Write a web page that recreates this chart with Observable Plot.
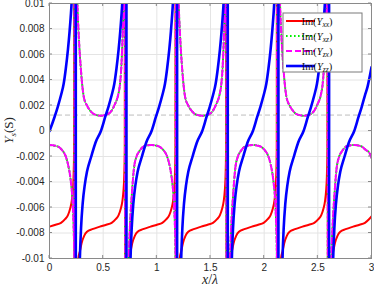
<!DOCTYPE html>
<html><head><meta charset="utf-8">
<script src="https://cdn.jsdelivr.net/npm/d3@7"></script>
<script src="https://cdn.jsdelivr.net/npm/@observablehq/plot@0.6"></script>
<style>body{margin:0;background:#fff;} #chart{width:374px;height:289px;overflow:hidden;position:relative}</style>
</head><body><div id="chart"></div>
<script>
// ---- axis ticks ----
const xTicks = [0, 0.5, 1, 1.5, 2, 2.5, 3];
const xTickLabels = ["0", "0.5", "1", "1.5", "2", "2.5", "3"];
const yTicks = [-0.01, -0.008, -0.006, -0.004, -0.002, 0, 0.002, 0.004, 0.006, 0.008, 0.01];
const yTickLabels = ["-0.01", "-0.008", "-0.006", "-0.004", "-0.002", "0", "0.002", "0.004", "0.006", "0.008", "0.01"];
const refLevel = [0.00125];
const seriesNames = ["xx", "xz", "zx", "zz"];

// ---- Im(Yxx) (values beyond ±0.01 are the off-scale parts near the poles) ----
const yxxX = [0, 0.057, 0.107, 0.147, 0.172, 0.192, 0.207, 0.217, 0.224, 0.229, 0.2325,
  0.2335, 0.244, 0.269, 0.284, 0.299, 0.324, 0.349, 0.399, 0.469, 0.529, 0.579, 0.619, 0.644, 0.664, 0.679, 0.689, 0.696, 0.701, 0.7045,
  0.7055, 0.716, 0.741, 0.756, 0.771, 0.796, 0.821, 0.871, 0.941, 1.001, 1.051, 1.091, 1.116, 1.136, 1.151, 1.161, 1.168, 1.173, 1.1765,
  1.1775, 1.188, 1.213, 1.228, 1.243, 1.268, 1.293, 1.343, 1.413, 1.473, 1.523, 1.563, 1.588, 1.608, 1.623, 1.633, 1.640, 1.645, 1.6485,
  1.6495, 1.660, 1.685, 1.700, 1.715, 1.740, 1.765, 1.815, 1.885, 1.945, 1.995, 2.035, 2.060, 2.080, 2.095, 2.105, 2.112, 2.117, 2.1205,
  2.1215, 2.132, 2.157, 2.172, 2.187, 2.212, 2.237, 2.287, 2.357, 2.417, 2.467, 2.507, 2.532, 2.552, 2.567, 2.577, 2.584, 2.589, 2.5925,
  2.5935, 2.604, 2.629, 2.644, 2.659, 2.684, 2.709, 2.759, 2.829, 2.889, 2.939, 2.979, 3.0];
const yxxY = [-0.0075, -0.00735, -0.0072, -0.0069, -0.0066, -0.0061, -0.0055, -0.0047, -0.0036, -0.0015, 0.05,
  -0.05, -0.018, -0.0100, -0.0094, -0.0088, -0.0082, -0.0079, -0.0077, -0.0075, -0.00735, -0.0072, -0.0069, -0.0066, -0.0061, -0.0055, -0.0047, -0.0036, -0.0015, 0.05,
  -0.05, -0.018, -0.0100, -0.0094, -0.0088, -0.0082, -0.0079, -0.0077, -0.0075, -0.00735, -0.0072, -0.0069, -0.0066, -0.0061, -0.0055, -0.0047, -0.0036, -0.0015, 0.05,
  -0.05, -0.018, -0.0100, -0.0094, -0.0088, -0.0082, -0.0079, -0.0077, -0.0075, -0.00735, -0.0072, -0.0069, -0.0066, -0.0061, -0.0055, -0.0047, -0.0036, -0.0015, 0.05,
  -0.05, -0.018, -0.0100, -0.0094, -0.0088, -0.0082, -0.0079, -0.0077, -0.0075, -0.00735, -0.0072, -0.0069, -0.0066, -0.0061, -0.0055, -0.0047, -0.0036, -0.0015, 0.05,
  -0.05, -0.018, -0.0100, -0.0094, -0.0088, -0.0082, -0.0079, -0.0077, -0.0075, -0.00735, -0.0072, -0.0069, -0.0066, -0.0061, -0.0055, -0.0047, -0.0036, -0.0015, 0.05,
  -0.05, -0.018, -0.0100, -0.0094, -0.0088, -0.0082, -0.0079, -0.0077, -0.0075, -0.00735, -0.0072, -0.0069, -0.0067];

// ---- Im(Yxz) and Im(Yzx) (the two curves coincide) ----
const yxzX = [0, 0.072, 0.117, 0.147, 0.172, 0.190, 0.202, 0.211, 0.219, 0.225, 0.230, 0.2325,
  0.2335, 0.247, 0.259, 0.272, 0.291, 0.319, 0.349, 0.379, 0.419, 0.479, 0.539, 0.579, 0.609, 0.639, 0.657, 0.669, 0.681, 0.691, 0.7045,
  0.7055, 0.723, 0.738, 0.751, 0.767, 0.786, 0.811, 0.836, 0.881, 0.951, 1.016, 1.061, 1.091, 1.116, 1.134, 1.146, 1.155, 1.163, 1.169, 1.174, 1.1765,
  1.1775, 1.191, 1.203, 1.216, 1.235, 1.263, 1.293, 1.323, 1.363, 1.423, 1.483, 1.523, 1.553, 1.583, 1.601, 1.613, 1.625, 1.635, 1.6485,
  1.6495, 1.667, 1.682, 1.695, 1.711, 1.730, 1.755, 1.780, 1.825, 1.895, 1.960, 2.005, 2.035, 2.060, 2.078, 2.090, 2.099, 2.107, 2.113, 2.118, 2.1205,
  2.1215, 2.135, 2.147, 2.160, 2.179, 2.207, 2.237, 2.267, 2.307, 2.367, 2.427, 2.467, 2.497, 2.527, 2.545, 2.557, 2.569, 2.579, 2.5925,
  2.5935, 2.611, 2.626, 2.639, 2.655, 2.674, 2.699, 2.724, 2.769, 2.839, 2.904, 2.949, 2.979, 3.0];
const yxzY = [-0.0011, -0.0012, -0.0015, -0.0019, -0.0026, -0.0034, -0.0042, -0.0050, -0.0062, -0.0076, -0.0096, -0.05,
  0.05, 0.016, 0.0103, 0.0076, 0.0050, 0.0027, 0.0020, 0.0016, 0.0013, 0.0012, 0.0013, 0.0016, 0.0021, 0.0028, 0.0037, 0.0050, 0.0074, 0.0103, 0.05,
  -0.05, -0.016, -0.0100, -0.0072, -0.0050, -0.0030, -0.0020, -0.0016, -0.0012, -0.0011, -0.0012, -0.0015, -0.0019, -0.0026, -0.0034, -0.0042, -0.0050, -0.0062, -0.0076, -0.0096, -0.05,
  0.05, 0.016, 0.0103, 0.0076, 0.0050, 0.0027, 0.0020, 0.0016, 0.0013, 0.0012, 0.0013, 0.0016, 0.0021, 0.0028, 0.0037, 0.0050, 0.0074, 0.0103, 0.05,
  -0.05, -0.016, -0.0100, -0.0072, -0.0050, -0.0030, -0.0020, -0.0016, -0.0012, -0.0011, -0.0012, -0.0015, -0.0019, -0.0026, -0.0034, -0.0042, -0.0050, -0.0062, -0.0076, -0.0096, -0.05,
  0.05, 0.016, 0.0103, 0.0076, 0.0050, 0.0027, 0.0020, 0.0016, 0.0013, 0.0012, 0.0013, 0.0016, 0.0021, 0.0028, 0.0037, 0.0050, 0.0074, 0.0103, 0.05,
  -0.05, -0.016, -0.0100, -0.0072, -0.0050, -0.0030, -0.0020, -0.0016, -0.0012, -0.0011, -0.0012, -0.0015, -0.0017, -0.0021];
const yzxX = yxzX;
const yzxY = yxzY;

// ---- Im(Yzz) ----
const yzzX = [0, 0.047, 0.077, 0.107, 0.132, 0.152, 0.172, 0.187, 0.197, 0.207, 0.222, 0.2445,
  0.2455, 0.269, 0.283, 0.294, 0.309, 0.329, 0.349, 0.389, 0.429, 0.479, 0.519, 0.549, 0.579, 0.604, 0.624, 0.644, 0.659, 0.669, 0.679, 0.694, 0.7165,
  0.7175, 0.741, 0.755, 0.766, 0.781, 0.801, 0.821, 0.861, 0.901, 0.951, 0.991, 1.021, 1.051, 1.076, 1.096, 1.116, 1.131, 1.141, 1.151, 1.166, 1.1885,
  1.1895, 1.213, 1.227, 1.238, 1.253, 1.273, 1.293, 1.333, 1.373, 1.423, 1.463, 1.493, 1.523, 1.548, 1.568, 1.588, 1.603, 1.613, 1.623, 1.638, 1.6605,
  1.6615, 1.685, 1.699, 1.710, 1.725, 1.745, 1.765, 1.805, 1.845, 1.895, 1.935, 1.965, 1.995, 2.020, 2.040, 2.060, 2.075, 2.085, 2.095, 2.110, 2.1325,
  2.1335, 2.157, 2.171, 2.182, 2.197, 2.217, 2.237, 2.277, 2.317, 2.367, 2.407, 2.437, 2.467, 2.492, 2.512, 2.532, 2.547, 2.557, 2.567, 2.582, 2.6045,
  2.6055, 2.629, 2.643, 2.654, 2.669, 2.689, 2.709, 2.749, 2.789, 2.839, 2.879, 2.909, 2.939, 2.964, 2.984, 3.0];
const yzzY = [0.0, 0.0011, 0.0019, 0.0028, 0.0037, 0.0049, 0.0064, 0.0078, 0.0089, 0.0103, 0.016, 0.05,
  -0.05, -0.016, -0.0100, -0.0076, -0.0057, -0.0042, -0.0032, -0.0020, -0.0009, 0.0, 0.0011, 0.0019, 0.0028, 0.0037, 0.0049, 0.0064, 0.0078, 0.0089, 0.0103, 0.016, 0.05,
  -0.05, -0.016, -0.0100, -0.0076, -0.0057, -0.0042, -0.0032, -0.0020, -0.0009, 0.0, 0.0011, 0.0019, 0.0028, 0.0037, 0.0049, 0.0064, 0.0078, 0.0089, 0.0103, 0.016, 0.05,
  -0.05, -0.016, -0.0100, -0.0076, -0.0057, -0.0042, -0.0032, -0.0020, -0.0009, 0.0, 0.0011, 0.0019, 0.0028, 0.0037, 0.0049, 0.0064, 0.0078, 0.0089, 0.0103, 0.016, 0.05,
  -0.05, -0.016, -0.0100, -0.0076, -0.0057, -0.0042, -0.0032, -0.0020, -0.0009, 0.0, 0.0011, 0.0019, 0.0028, 0.0037, 0.0049, 0.0064, 0.0078, 0.0089, 0.0103, 0.016, 0.05,
  -0.05, -0.016, -0.0100, -0.0076, -0.0057, -0.0042, -0.0032, -0.0020, -0.0009, 0.0, 0.0011, 0.0019, 0.0028, 0.0037, 0.0049, 0.0064, 0.0078, 0.0089, 0.0103, 0.016, 0.05,
  -0.05, -0.016, -0.0100, -0.0076, -0.0057, -0.0042, -0.0032, -0.0020, -0.0009, 0.0, 0.0011, 0.0019, 0.0028, 0.0035, 0.0043, 0.0050];

const rows = (xs, ys) => xs.map((x, i) => ({x, y: ys[i]}));
const dataXX = rows(yxxX, yxxY), dataXZ = rows(yxzX, yxzY), dataZX = rows(yzxX, yzxY), dataZZ = rows(yzzX, yzzY);

const styles = [
  {color: "#ff0000", width: 2, dash: null},
  {color: "#00ee00", width: 2, dash: "1.6,2.4"},
  {color: "#ff00ff", width: 2, dash: "6,3"},
  {color: "#0000ff", width: 2.6, dash: null}
];
const lineOpts = (s) => ({x: "x", y: "y", stroke: s.color, strokeWidth: s.width, strokeDasharray: s.dash, curve: "monotone-x", clip: true});
const gridColor = "#e4e4e4";

const chart = Plot.plot({
  width: 374, height: 289,
  marginLeft: 49, marginRight: 3, marginTop: 3, marginBottom: 31,
  style: {fontFamily: "'Liberation Sans', Arial, sans-serif", fontSize: "10px", color: "#262626", background: "white", overflow: "visible"},
  x: {domain: [0, 3], label: null},
  y: {domain: [-0.01, 0.01], label: null},
  marks: [
    Plot.ruleX(xTicks, {stroke: gridColor}),
    Plot.ruleY(yTicks, {stroke: gridColor}),
    Plot.ruleY(refLevel, {stroke: "#bdbdbd", strokeDasharray: "5,3"}),
    Plot.line(dataXX, lineOpts(styles[0])),
    Plot.line(dataXZ, lineOpts(styles[1])),
    Plot.line(dataZX, lineOpts(styles[2])),
    Plot.line(dataZZ, lineOpts(styles[3])),
    Plot.frame({stroke: "#8a8a8a"}),
    Plot.axisX({ticks: xTicks, tickSize: 0, tickPadding: 5, tickFormat: d => xTickLabels[xTicks.indexOf(d)], label: null, fill: "#262626"}),
    Plot.axisY({ticks: yTicks, tickSize: 0, tickPadding: 5, tickFormat: d => yTickLabels[yTicks.indexOf(d)], label: null, fill: "#262626"})
  ]
});
document.getElementById("chart").appendChild(chart);

// inward tick marks on all four sides (MATLAB box style)
const sx = chart.scale("x"), sy = chart.scale("y");
const svg = d3.select(chart);
const x0 = sx.apply(0), x1 = sx.apply(3), yB = sy.apply(-0.01), yT = sy.apply(0.01);
const tg = svg.append("g").attr("stroke", "#8a8a8a").attr("stroke-width", 1);
xTicks.forEach(t => {
  const px = sx.apply(t);
  tg.append("line").attr("x1", px).attr("x2", px).attr("y1", yB).attr("y2", yB - 3);
  tg.append("line").attr("x1", px).attr("x2", px).attr("y1", yT).attr("y2", yT + 3);
});
yTicks.forEach(t => {
  const py = sy.apply(t);
  tg.append("line").attr("y1", py).attr("y2", py).attr("x1", x0).attr("x2", x0 + 3);
  tg.append("line").attr("y1", py).attr("y2", py).attr("x1", x1).attr("x2", x1 - 3);
});

const serif = "'Liberation Serif', 'Times New Roman', serif";
// axis labels
const xl = svg.append("text").attr("x", (x0 + x1) / 2).attr("y", 284).attr("text-anchor", "middle")
  .attr("font-family", serif).attr("font-size", 14).attr("fill", "#262626");
xl.append("tspan").attr("font-style", "italic").text("x");
xl.append("tspan").text("/");
xl.append("tspan").attr("font-style", "italic").text("λ");

const yl = svg.append("text").attr("transform", `translate(13,${(yT + yB) / 2}) rotate(-90)`).attr("text-anchor", "middle")
  .attr("font-family", serif).attr("font-size", 13).attr("fill", "#262626");
yl.append("tspan").attr("font-style", "italic").text("Y");
yl.append("tspan").attr("font-style", "italic").attr("font-size", 9).attr("dy", 3).text("s");
yl.append("tspan").attr("dy", -3).text("(S)");

// legend
const lg = svg.append("g");
lg.append("rect").attr("x", 283).attr("y", 13).attr("width", 79).attr("height", 59)
  .attr("fill", "white").attr("stroke", "#7a7a7a").attr("stroke-width", 1);
seriesNames.forEach((nm, i) => {
  const cy = 21 + i * 15;
  const s = styles[i];
  lg.append("line").attr("x1", 286).attr("x2", 315).attr("y1", cy).attr("y2", cy)
    .attr("stroke", s.color).attr("stroke-width", s.width).attr("stroke-dasharray", s.dash);
  const t = lg.append("text").attr("x", 317).attr("y", cy + 3.5)
    .attr("font-family", serif).attr("font-size", 10.5).attr("fill", "#111");
  t.append("tspan").text("Im(");
  t.append("tspan").attr("font-style", "italic").text("Y");
  t.append("tspan").attr("font-style", "italic").attr("font-size", 7.5).attr("dy", 2.5).text(nm);
  t.append("tspan").attr("dy", -2.5).text(")");
});
</script>
</body></html>
